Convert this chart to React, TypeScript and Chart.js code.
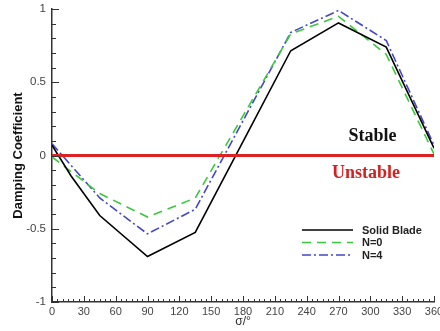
import React, { useEffect, useRef } from "react";
import { Chart, registerables } from "chart.js";

Chart.register(...registerables);

// ---- data ----
const sigmaSolid = [0, 18, 45, 90, 135, 180, 225, 270, 315, 360];
const solidBlade = [0.07, -0.14, -0.41, -0.69, -0.525, 0.095, 0.715, 0.905, 0.74, 0.05];
const sigmaN = [0, 45, 90, 135, 180, 225, 270, 315, 360];
const n0 = [-0.01, -0.26, -0.42, -0.29, 0.27, 0.83, 0.95, 0.69, 0.01];
const n4 = [0.08, -0.29, -0.535, -0.367, 0.237, 0.84, 0.99, 0.785, 0.07];
const neutralSigma = [0, 360];
const neutralLine = [0, 0];
const seriesNames = ["Solid Blade", "N=0", "N=4"];
const stableLabel = "Stable";
const unstableLabel = "Unstable";
const xTitle = "σ/°";
const yTitle = "Damping Coefficient";

const SANS = "'Liberation Sans', Arial, sans-serif";
const SERIF = "'Liberation Serif', 'Times New Roman', serif";

const pts = (xs: number[], ys: number[]) => xs.map((x, i) => ({ x, y: ys[i] }));

const decorPlugin = {
  id: "decor",
  afterDraw(chart: any) {
    const ctx = chart.ctx;
    const xs = chart.scales.x;
    const ys = chart.scales.y;
    const area = chart.chartArea;
    ctx.save();
    // inward ticks
    ctx.strokeStyle = "#333";
    ctx.lineWidth = 1;
    for (let v = 0; v <= 360; v += 5) {
      const px = Math.round(xs.getPixelForValue(v)) + 0.5;
      const len = v % 30 === 0 ? 6 : 3;
      ctx.beginPath();
      ctx.moveTo(px, area.bottom);
      ctx.lineTo(px, area.bottom - len);
      ctx.stroke();
    }
    for (let i = -10; i <= 10; i++) {
      const py = Math.round(ys.getPixelForValue(i / 10)) + 0.5;
      const len = i % 5 === 0 ? 7 : 4;
      ctx.beginPath();
      ctx.moveTo(area.left, py);
      ctx.lineTo(area.left + len, py);
      ctx.stroke();
    }
    // zone labels
    ctx.textAlign = "center";
    ctx.textBaseline = "middle";
    ctx.font = `bold 18px ${SERIF}`;
    ctx.fillStyle = "#111";
    ctx.fillText(stableLabel, xs.getPixelForValue(302), ys.getPixelForValue(0.128));
    ctx.fillStyle = "#d42020";
    ctx.fillText(unstableLabel, xs.getPixelForValue(296), ys.getPixelForValue(-0.124));
    // legend
    const ds = chart.data.datasets.filter((d: any) => d.inLegend);
    ctx.font = `bold 11px ${SANS}`;
    ctx.textAlign = "left";
    ds.forEach((d: any, i: number) => {
      const y = 230 + i * 12.5;
      ctx.strokeStyle = d.borderColor;
      ctx.lineWidth = d.borderWidth;
      ctx.setLineDash(d.borderDash || []);
      ctx.beginPath();
      ctx.moveTo(302, y);
      ctx.lineTo(353, y);
      ctx.stroke();
      ctx.setLineDash([]);
      ctx.fillStyle = "#222";
      ctx.fillText(d.label, 362, y + 0.5);
    });
    ctx.restore();
  },
};

export default function App() {
  const ref = useRef<HTMLCanvasElement | null>(null);
  useEffect(() => {
    if (!ref.current) return;
    const chart = new Chart(ref.current, {
      type: "line",
      data: {
        datasets: [
          {
            label: seriesNames[0],
            data: pts(sigmaSolid, solidBlade),
            borderColor: "#000000",
            borderWidth: 1.6,
            pointRadius: 0,
            tension: 0,
            fill: false,
            inLegend: true,
            order: 1,
          } as any,
          {
            label: seriesNames[1],
            data: pts(sigmaN, n0),
            borderColor: "#3cc83c",
            borderWidth: 1.6,
            borderDash: [9, 6],
            pointRadius: 0,
            tension: 0,
            fill: false,
            inLegend: true,
            order: 1,
          } as any,
          {
            label: seriesNames[2],
            data: pts(sigmaN, n4),
            borderColor: "#4646c8",
            borderWidth: 1.6,
            borderDash: [9, 3, 2, 3],
            pointRadius: 0,
            tension: 0,
            fill: false,
            inLegend: true,
            order: 1,
          } as any,
          {
            label: "neutral",
            data: pts(neutralSigma, neutralLine),
            borderColor: "#dc2222",
            borderWidth: 3,
            pointRadius: 0,
            fill: false,
            inLegend: false,
            order: 0,
          } as any,
        ],
      },
      options: {
        animation: false,
        responsive: false,
        maintainAspectRatio: false,
        events: [],
        layout: { padding: { left: 0, right: 6, top: 9, bottom: 0 } },
        plugins: { legend: { display: false }, tooltip: { enabled: false } },
        scales: {
          x: {
            type: "linear",
            min: 0,
            max: 360,
            grid: { display: false, drawTicks: false },
            border: { display: true, color: "#333", width: 1.5 },
            ticks: {
              stepSize: 30,
              padding: 3,
              color: "#444",
              font: { family: SANS, size: 11 },
              maxRotation: 0,
              autoSkip: false,
            },
            title: {
              display: true,
              text: xTitle,
              color: "#333",
              font: { family: SANS, size: 12 },
              padding: { top: 0, bottom: 2 },
            },
            afterFit(scale: any) {
              scale.height = 29;
              scale.paddingLeft = 0;
              scale.paddingRight = 0;
            },
          },
          y: {
            type: "linear",
            min: -1,
            max: 1,
            grid: { display: false, drawTicks: false },
            border: { display: true, color: "#333", width: 1.5 },
            ticks: {
              stepSize: 0.5,
              padding: 6,
              color: "#444",
              font: { family: SANS, size: 11.5 },
              callback: (v: any) => String(v),
            },
            title: {
              display: true,
              text: yTitle,
              color: "#111",
              font: { family: SANS, size: 13, weight: "bold" },
              padding: { top: 11, bottom: 0 },
            },
            afterFit(scale: any) {
              scale.width = 52;
              scale.paddingTop = 0;
              scale.paddingBottom = 0;
            },
          },
        },
      },
      plugins: [decorPlugin],
    });
    return () => chart.destroy();
  }, []);
  return (
    <div style={{ position: "absolute", left: 0, top: 0, width: 440, height: 331, background: "#fff" }}>
      <canvas ref={ref} width={440} height={331} style={{ width: 440, height: 331 }} />
    </div>
  );
}
